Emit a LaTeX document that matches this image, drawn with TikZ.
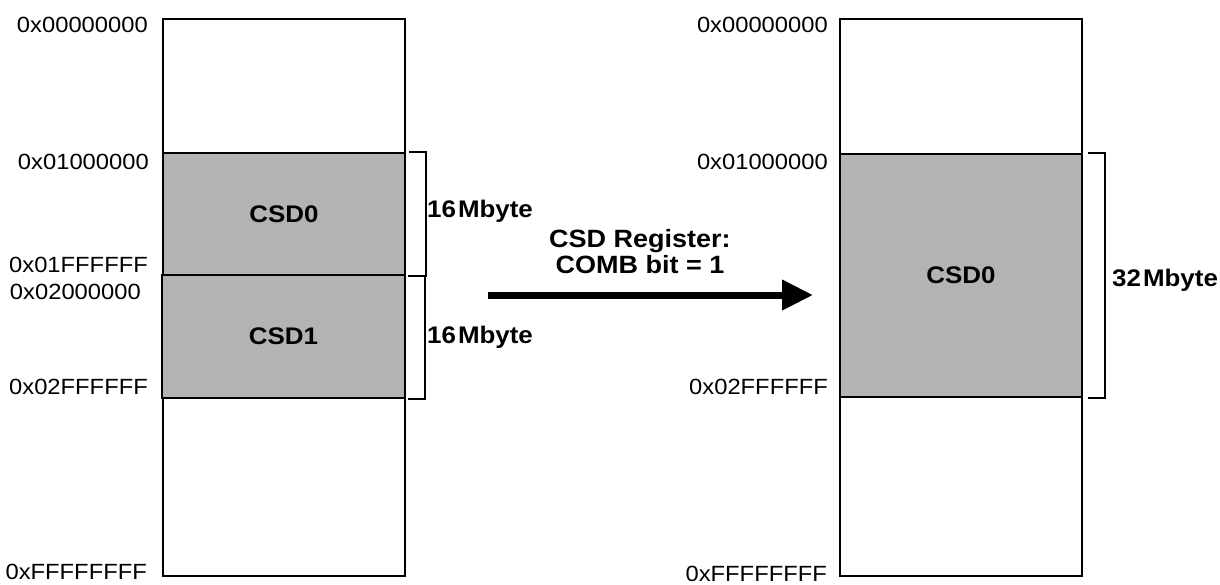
\documentclass[tikz,border=0pt]{standalone}
\usepackage{fontspec}
\setmainfont[FakeStretch=1.08]{Liberation Sans}
\usepackage{tikz}
\usetikzlibrary{arrows.meta, positioning}
\definecolor{regiongray}{HTML}{B3B3B3}
\tikzstyle{memmap} = [
  rectangle, draw=black, line width=2pt, inner sep=0pt,
  anchor=north west, minimum width=242pt, minimum height=557pt
]
\tikzstyle{region} = [
  memmap, fill=regiongray,
  font=\fontsize{24}{28}\selectfont\bfseries
]
\tikzstyle{addr} = [anchor=east, inner sep=0pt, font=\fontsize{22}{26}\selectfont]
\tikzstyle{sizelabel} = [anchor=west, inner sep=0pt, font=\fontsize{24}{28}\selectfont\bfseries]
\tikzstyle{note} = [anchor=base, inner sep=0pt, font=\fontsize{25}{28}\selectfont\bfseries]
\tikzstyle{brace} = [line width=1.6pt]
\tikzstyle{bigarrow} = [-{Triangle[length=31pt,width=29pt]}, line width=7pt]

\begin{document}
\begin{tikzpicture}[x=1pt, y=-1pt]
  \useasboundingbox (0,0) rectangle (1220,584);

  % left map, before
  \node[memmap] (lmap) at (162,18) {};
  \node[region, minimum height=122pt] (lcsd0) at (162,152) {CSD0};
  \node[region, minimum height=123pt, minimum width=243pt] (lcsd1) at (161,274) {CSD1};

  \node[addr] (laddr0) at (148,25) {0x00000000};
  \node[addr] (laddr1) at (149,162) {0x01000000};
  \node[addr] (laddr2) at (148,265) {0x01FFFFFF};
  \node[addr] (laddr3) at (141,292) {0x02000000};
  \node[addr] (laddr4) at (148,387) {0x02FFFFFF};
  \node[addr] (laddr5) at (147,572) {0xFFFFFFFF};

  \draw[brace] ([xshift=3pt]lcsd0.north east) -- ++(17,0) |- ([xshift=3pt]lcsd0.south east);
  \draw[brace] ([xshift=2pt,yshift=-2pt]lcsd1.north east) -- ++(17,0) |- ([xshift=2pt]lcsd1.south east);
  \node[sizelabel] (lsize0) at (427,211) {16\kern2pt Mbyte};
  \node[sizelabel] (lsize1) at (427,337) {16\kern2pt Mbyte};

  % arrow
  \coordinate (arrfrom) at (488,295);
  \coordinate (arrto) at (813,295);
  \draw[bigarrow] (arrfrom) -- (arrto);
  \node[note] (note1) at (640,247) {CSD Register:};
  \node[note] (note2) at (640,273) {COMB bit = 1};

  % right map, after
  \node[memmap] (rmap) at (839,18) {};
  \node[region, minimum height=243pt] (rcsd0) at (839,153) {CSD0};

  \node[addr] (raddr0) at (828,25) {0x00000000};
  \node[addr] (raddr1) at (828,162) {0x01000000};
  \node[addr] (raddr2) at (828,387) {0x02FFFFFF};
  \node[addr] (raddr3) at (827,574) {0xFFFFFFFF};

  \draw[brace] ([xshift=5pt]rcsd0.north east) -- ++(17,0) |- ([xshift=5pt]rcsd0.south east);
  \node[sizelabel] (rsize0) at (1112,280) {32\kern2pt Mbyte};

\end{tikzpicture}
\end{document}
